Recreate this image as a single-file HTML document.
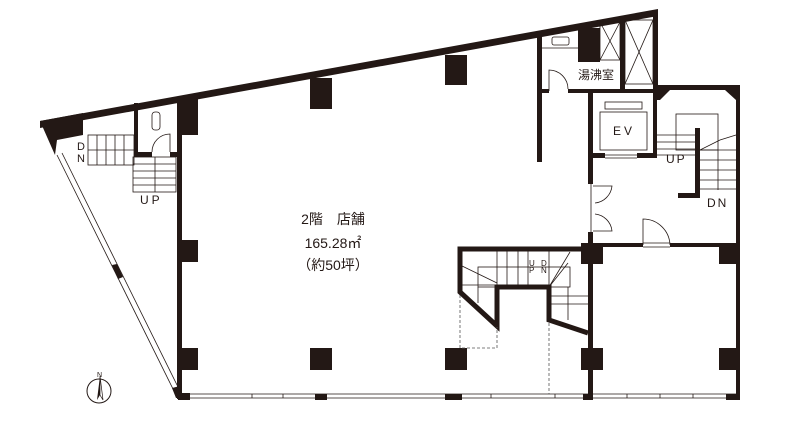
<!DOCTYPE html>
<html><head><meta charset="utf-8"><style>
html,body{margin:0;padding:0;background:#fff;}
svg{display:block;}
text{font-family:"Liberation Sans","Noto Sans CJK JP",sans-serif;fill:#231815;}
</style></head><body>
<svg width="800" height="421" viewBox="0 0 800 421" xmlns="http://www.w3.org/2000/svg">
<g fill="#231815" stroke="none">
<!-- top sloped wall -->
<polygon points="40,121 658,9 658,16 40,128"/>
<!-- top-left black corner -->
<polygon points="40,121 83,113 83,135 57,140 55,155"/>
<!-- right upper wall -->
<rect x="653" y="10" width="5" height="80"/>
<polygon points="653,85 740,85 740,400 736,400 736,100 725,90 670,90 660,100 653,100"/>
<!-- left building wall -->
<rect x="177" y="97" width="5" height="302"/>
<!-- pillars -->
<rect x="178" y="97" width="20" height="38"/>
<rect x="310" y="78" width="22" height="31"/>
<rect x="445" y="55" width="22" height="30"/>
<rect x="578" y="28" width="22" height="34"/>
<rect x="177" y="240" width="21" height="22"/>
<rect x="177" y="348" width="21" height="22"/>
<rect x="310" y="348" width="22" height="22"/>
<rect x="445" y="348" width="22" height="22"/>
<rect x="581" y="243" width="22" height="21"/>
<rect x="719" y="243" width="21" height="21"/>
<rect x="581" y="348" width="22" height="22"/>
<rect x="719" y="348" width="21" height="22"/>
<!-- toilet walls -->
<rect x="134" y="103" width="4" height="54"/>
<rect x="134" y="152" width="18" height="5"/>
<rect x="170" y="152" width="8" height="5"/>
<!-- hot water room walls -->
<rect x="537" y="36" width="5" height="126"/>
<rect x="537" y="89" width="12" height="4"/>
<rect x="568" y="89" width="87" height="4"/>
<rect x="620" y="22" width="5" height="70"/>
<!-- EV walls -->
<rect x="588" y="90" width="5" height="94"/>
<rect x="588" y="232" width="5" height="168"/>
<rect x="588" y="153" width="17" height="5"/>
<rect x="637" y="153" width="20" height="5"/>
<rect x="653" y="90" width="4" height="68"/>
<!-- right stair inner wall -->
<rect x="695" y="128" width="5" height="70"/>
<rect x="678" y="193" width="22" height="5"/>
<!-- horizontal wall with door -->
<rect x="593" y="243" width="50" height="4"/>
<rect x="670" y="243" width="67" height="4"/>
<!-- bottom window pieces -->
<rect x="178" y="393" width="12" height="7"/>
<rect x="315" y="394" width="12" height="6"/>
<rect x="445" y="394" width="17" height="6"/>
<rect x="583" y="394" width="10" height="6"/>
<rect x="726" y="394" width="14" height="6"/>
<!-- sloped window black piece -->
<polygon points="112,265 117,264 123,277 118,279"/>
<polygon points="172,388 180,386 182,398 176,398"/>
</g>
<!-- lower stair thick outline -->
<polyline points="585,249 460,249 460,292 497,326 497,287 549,287 549,320 588,333" fill="none" stroke="#231815" stroke-width="5"/>
<g fill="none" stroke="#231815" stroke-width="0.8">
<!-- sloped window -->
<line x1="57" y1="155" x2="175" y2="393"/>
<line x1="62" y1="153" x2="180" y2="391"/>
<!-- bottom window -->
<line x1="182" y1="394" x2="737" y2="394"/>
<line x1="182" y1="398" x2="737" y2="398"/>
<line x1="252" y1="394" x2="252" y2="398"/><line x1="283" y1="394" x2="283" y2="398"/>
<line x1="491" y1="394" x2="491" y2="398"/><line x1="555" y1="394" x2="555" y2="398"/>
<line x1="627" y1="394" x2="627" y2="398"/><line x1="660" y1="394" x2="660" y2="398"/><line x1="693" y1="394" x2="693" y2="398"/>
<!-- left DN stairs -->
<rect x="88" y="135" width="46" height="30"/>
<line x1="88" y1="150" x2="134" y2="150"/>
<line x1="97" y1="135" x2="97" y2="165"/><line x1="106" y1="135" x2="106" y2="165"/><line x1="115" y1="135" x2="115" y2="165"/><line x1="124" y1="135" x2="124" y2="165"/>
<!-- left UP stairs -->
<rect x="133" y="157" width="43" height="35"/>
<line x1="133" y1="164" x2="176" y2="164"/><line x1="133" y1="171" x2="176" y2="171"/><line x1="133" y1="178" x2="176" y2="178"/><line x1="133" y1="185" x2="176" y2="185"/>
<line x1="155" y1="157" x2="155" y2="192"/>
<!-- toilet -->
<rect x="152" y="112" width="8" height="18" rx="3"/>
<path d="M152,152 A18,18 0 0 1 170,134 L170,152"/>
<!-- hot water room -->
<line x1="542" y1="48" x2="578" y2="48"/>
<rect x="552" y="37" width="17" height="8" rx="2"/>
<path d="M549,91 L549,70 A19,19 0 0 1 568,89"/>
<rect x="600" y="22" width="20" height="38"/><line x1="600" y1="22" x2="620" y2="60"/><line x1="620" y1="22" x2="600" y2="60"/>
<rect x="625" y="20" width="28" height="64"/><line x1="625" y1="20" x2="653" y2="84"/><line x1="653" y1="20" x2="625" y2="84"/>
<!-- EV -->
<rect x="605" y="102" width="37" height="7"/>
<rect x="600" y="112" width="47" height="38"/>
<line x1="605" y1="155" x2="637" y2="155"/><line x1="605" y1="158" x2="637" y2="158"/>
<!-- double doors -->
<path d="M591,184 L591,232 M593,186 L612,186 A19,19 0 0 1 595,203 M593,231 L612,231 A19,19 0 0 0 595,214"/>
<!-- door to right room -->
<path d="M643,245 L643,219 A27,27 0 0 1 670,245 M643,243 L670,243 M643,247 L670,247"/>
<!-- right stairs -->
<rect x="676" y="114" width="42" height="36"/>
<line x1="657" y1="135" x2="695" y2="135"/><line x1="657" y1="142" x2="695" y2="142"/><line x1="657" y1="149" x2="695" y2="149"/><line x1="657" y1="155" x2="695" y2="155"/>
<line x1="700" y1="150" x2="736" y2="150"/><line x1="700" y1="160" x2="736" y2="160"/><line x1="700" y1="170" x2="736" y2="170"/><line x1="700" y1="180" x2="736" y2="180"/><line x1="700" y1="189" x2="736" y2="189"/>
<line x1="718" y1="150" x2="718" y2="190"/>
<polyline points="700,150 720,140 736,135"/>
<!-- lower stairs inner lines -->
<line x1="497" y1="249" x2="497" y2="287"/><line x1="507" y1="249" x2="507" y2="287"/><line x1="518" y1="249" x2="518" y2="287"/><line x1="528" y1="249" x2="528" y2="287"/><line x1="549" y1="249" x2="549" y2="287"/>
<rect x="478" y="267" width="92" height="20"/>
<line x1="460" y1="265" x2="497" y2="283"/>
<line x1="460" y1="285" x2="497" y2="285"/><line x1="478" y1="287" x2="478" y2="303"/>
<line x1="549" y1="287" x2="568" y2="263"/><line x1="549" y1="287" x2="570" y2="252"/>
<line x1="549" y1="304" x2="588" y2="304"/><line x1="549" y1="296" x2="588" y2="296"/><line x1="568" y1="287" x2="568" y2="320"/>
</g>
<g fill="none" stroke="#555" stroke-width="0.8" stroke-dasharray="3,2">
<polyline points="460,295 460,348 497,348 497,327"/>
<line x1="549" y1="323" x2="549" y2="394"/>
</g>
<!-- compass -->
<circle cx="99" cy="391" r="12" fill="none" stroke="#231815" stroke-width="1"/>
<polygon points="100,376 97,400 100,395" fill="#231815"/>
<polygon points="100,376 103,400 100,395" fill="none" stroke="#231815" stroke-width="0.7"/>
<text x="97" y="377" font-size="7">N</text>
<!-- labels -->
<text x="77" y="150" font-size="11">D</text>
<text x="77" y="162" font-size="11">N</text>
<text x="140" y="204" font-size="12" letter-spacing="3">UP</text>
<text x="333" y="224" font-size="14" text-anchor="middle">2階　店舗</text>
<text x="333" y="248" font-size="14" text-anchor="middle">165.28㎡</text>
<text x="333" y="270" font-size="14" text-anchor="middle">（約50坪）</text>
<text x="578" y="79" font-size="12">湯沸室</text>
<text x="613" y="135" font-size="12" letter-spacing="3">EV</text>
<text x="666" y="163" font-size="12" letter-spacing="2">UP</text>
<text x="707" y="207" font-size="12" letter-spacing="2">DN</text>
<text x="529" y="266" font-size="8">U</text><text x="529" y="273" font-size="8">P</text>
<text x="541" y="266" font-size="8">D</text><text x="541" y="273" font-size="8">N</text>
</svg>
</body></html>
